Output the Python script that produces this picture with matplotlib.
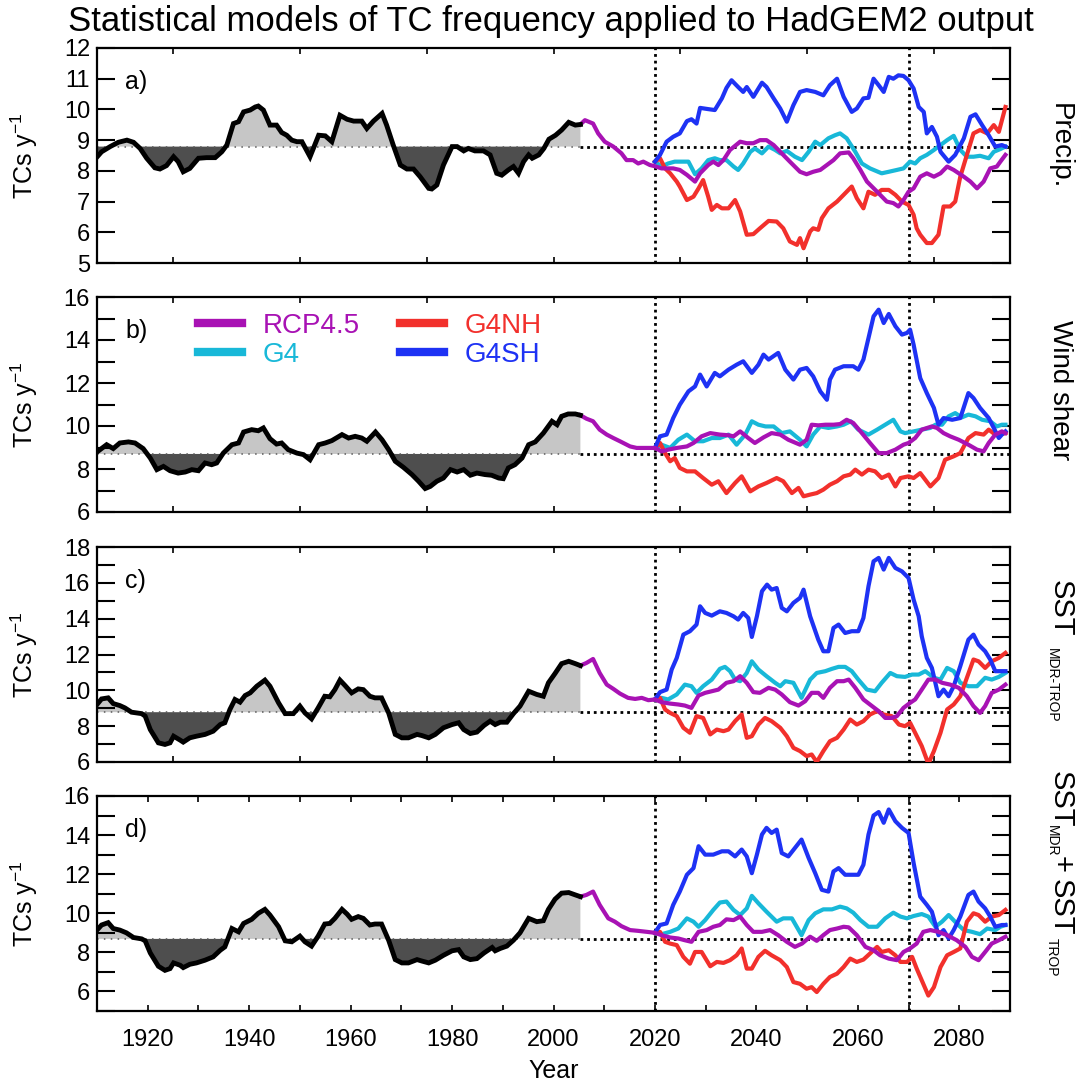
import numpy as np
import matplotlib.pyplot as plt
from matplotlib.ticker import MultipleLocator
from matplotlib.lines import Line2D

plt.rcParams['font.family'] = ['Liberation Sans', 'DejaVu Sans']
plt.rcParams['mathtext.fontset'] = 'custom'
plt.rcParams['mathtext.rm'] = 'Liberation Sans'
plt.rcParams['mathtext.it'] = 'Liberation Sans:italic'
plt.rcParams['mathtext.default'] = 'regular'

# (year, TCs per year)
# ---- a) precipitation model
precip_base = 8.79
precip_hist = [(1910,8.45),(1910.9,8.62),(1912.6,8.79),(1914.2,8.93),(1915.9,9.00),(1917.2,8.93),(1918.5,8.73),(1919.8,8.41),(1921.4,8.10),(1922.4,8.06),(1923.7,8.17),(1925.1,8.46),(1926.0,8.30),(1927.0,7.97),(1928.3,8.08),(1930.0,8.41),(1931.6,8.43),(1933.3,8.43),(1934.6,8.62),(1935.6,8.84),(1936.9,9.54),(1937.9,9.60),(1938.9,9.92),(1940.2,9.98),(1941.2,10.08),(1941.8,10.11),(1942.8,9.98),(1944.1,9.49),(1945.4,9.49),(1946.4,9.25),(1947.4,9.16),(1948.4,9.00),(1949.4,8.95),(1950.4,8.95),(1952.0,8.46),(1953.7,9.16),(1955.0,9.14),(1956.3,8.95),(1957.9,9.81),(1959.3,9.68),(1960.6,9.62),(1962.2,9.62),(1963.2,9.38),(1964.5,9.62),(1966.2,9.87),(1967.1,9.49),(1968.4,8.84),(1969.8,8.19),(1971.1,8.06),(1972.4,8.06),(1973.7,7.81),(1975.4,7.43),(1976.0,7.41),(1977.0,7.54),(1978.3,8.19),(1980.0,8.79),(1981.0,8.79),(1982.3,8.65),(1983.2,8.73),(1984.5,8.65),(1986.2,8.65),(1987.5,8.52),(1988.8,7.92),(1989.8,7.86),(1991.1,8.03),(1992.1,8.14),(1993.1,7.92),(1994.1,8.30),(1995.1,8.52),(1995.8,8.41),(1997.1,8.52),(1998.1,8.73),(1999.1,9.03),(2000.4,9.16),(2001.6,9.33),(2003.0,9.58),(2004.3,9.49),(2005.3,9.51)]
precip_rcp = [(2005.3,9.51),(2006.2,9.65),(2007.8,9.54),(2008.8,9.22),(2010.1,8.95),(2011.8,8.79),(2013.4,8.57),(2014.4,8.35),(2015.7,8.35),(2016.7,8.24),(2017.7,8.30),(2019.0,8.19),(2020.0,8.15),(2021.3,8.08),(2023.6,8.08),(2024.9,8.03),(2026.3,7.87),(2027.9,7.65),(2028.9,7.92),(2030.5,8.19),(2031.5,8.30),(2032.5,8.19),(2033.5,8.35),(2034.8,8.68),(2036.8,8.95),(2038.1,8.90),(2039.4,8.90),(2040.7,9.00),(2042.0,9.00),(2043.4,8.84),(2044.7,8.62),(2046.6,8.30),(2048.6,7.97),(2049.9,7.89),(2051.2,7.97),(2052.6,8.03),(2053.9,8.19),(2055.2,8.35),(2056.5,8.57),(2058.2,8.60),(2059.1,8.41),(2060.5,8.03),(2061.8,7.65),(2063.8,7.32),(2065.7,7.00),(2067.0,6.95),(2068.0,6.84),(2069.0,7.05),(2070.0,7.32),(2071.0,7.43),(2072.3,7.81),(2073.6,7.92),(2075.0,7.81),(2076.3,7.92),(2077.6,8.14),(2078.9,8.03),(2080.9,7.81),(2082.2,7.65),(2083.5,7.43),(2084.8,7.65),(2086.1,8.08),(2087.4,8.14),(2088.1,8.30),(2089.1,8.52)]
precip_g4 = [(2020.0,8.30),(2021.3,8.14),(2022.6,8.24),(2023.9,8.30),(2025.3,8.30),(2026.6,8.30),(2027.9,7.89),(2029.2,8.08),(2030.5,8.35),(2031.8,8.41),(2032.8,8.35),(2034.1,8.35),(2035.5,8.14),(2036.4,8.03),(2037.4,8.24),(2038.8,8.62),(2039.7,8.73),(2041.1,8.57),(2042.4,8.79),(2043.7,8.68),(2044.7,8.57),(2046.0,8.65),(2047.6,8.46),(2049.0,8.35),(2050.3,8.62),(2051.6,8.95),(2052.6,8.84),(2054.2,9.06),(2055.5,9.16),(2056.5,9.22),(2057.8,9.06),(2059.5,8.62),(2060.8,8.24),(2062.4,8.08),(2064.7,7.92),(2066.1,7.97),(2067.7,8.03),(2069.0,8.08),(2070.3,8.30),(2071.3,8.24),(2072.3,8.41),(2073.6,8.52),(2075.0,8.68),(2076.3,8.84),(2077.6,9.00),(2078.9,9.14),(2080.2,8.68),(2081.5,8.46),(2082.8,8.46),(2084.1,8.49),(2085.8,8.41),(2086.8,8.62),(2088.1,8.71),(2089.1,8.79)]
precip_g4nh = [(2020.0,8.30),(2021.0,8.41),(2022.0,8.08),(2023.0,7.92),(2024.3,7.65),(2024.9,7.49),(2026.3,7.05),(2027.6,7.16),(2028.6,7.43),(2029.5,7.70),(2030.5,7.16),(2031.2,6.73),(2032.2,6.89),(2033.2,6.78),(2034.5,6.78),(2035.8,7.05),(2036.8,6.68),(2038.1,5.92),(2039.4,5.94),(2040.7,6.13),(2042.4,6.37),(2044.0,6.35),(2045.3,6.13),(2046.6,5.70),(2048.0,5.59),(2048.6,5.81),(2049.3,5.48),(2050.6,6.03),(2051.2,6.13),(2052.2,6.08),(2052.9,6.46),(2054.2,6.78),(2055.9,7.00),(2057.5,7.27),(2058.8,7.49),(2059.8,7.11),(2061.1,6.78),(2062.1,7.32),(2063.4,7.22),(2064.7,7.38),(2066.1,7.38),(2067.4,7.22),(2068.7,7.00),(2070.0,6.89),(2071.0,6.57),(2071.6,6.13),(2072.3,5.92),(2073.6,5.65),(2074.6,5.65),(2075.9,5.92),(2076.9,6.84),(2078.2,6.84),(2079.2,7.00),(2080.2,7.81),(2081.5,8.52),(2082.8,9.22),(2084.1,9.33),(2085.5,9.22),(2086.8,9.49),(2087.8,9.27),(2089.1,10.08)]
precip_g4sh = [(2020.0,8.30),(2021.0,8.52),(2022.3,8.95),(2023.6,9.11),(2024.9,9.22),(2026.3,9.62),(2027.2,9.68),(2028.2,9.54),(2028.9,10.05),(2030.5,10.01),(2031.8,9.98),(2033.2,10.36),(2034.1,10.70),(2035.1,10.95),(2036.4,10.73),(2037.4,10.57),(2038.1,10.73),(2039.4,10.41),(2041.1,10.87),(2042.0,10.73),(2043.4,10.36),(2044.7,10.03),(2046.0,9.60),(2047.3,10.14),(2048.6,10.57),(2049.9,10.63),(2051.6,10.57),(2053.2,10.46),(2054.5,10.79),(2055.9,11.00),(2057.2,10.41),(2058.8,9.92),(2059.8,10.03),(2061.1,10.36),(2062.1,10.38),(2063.1,11.00),(2064.1,10.79),(2065.1,10.57),(2066.1,11.06),(2067.0,11.00),(2068.0,11.11),(2069.0,11.09),(2070.0,10.95),(2071.0,10.68),(2072.0,10.08),(2073.0,9.92),(2073.6,9.22),(2074.6,9.43),(2075.6,9.11),(2076.3,8.62),(2077.9,8.30),(2079.2,8.52),(2080.9,9.06),(2082.2,9.76),(2083.2,9.84),(2084.5,9.49),(2085.8,9.16),(2087.1,8.79),(2088.4,8.84),(2089.1,8.79)]

# ---- b) wind shear model
wind_base = 8.70
wind_hist = [(1910,8.79),(1910.6,8.90),(1911.9,9.13),(1913.2,8.95),(1914.5,9.21),(1916.2,9.26),(1917.5,9.21),(1919.1,8.95),(1920.5,8.51),(1921.8,7.97),(1923.1,8.12),(1924.4,7.92),(1926.0,7.81),(1927.4,7.86),(1928.7,7.97),(1930.0,7.92),(1931.3,8.28),(1932.6,8.20),(1933.6,8.28),(1934.9,8.74),(1936.6,9.13),(1937.9,9.21),(1938.9,9.72),(1940.5,9.83),(1941.8,9.78),(1942.8,9.91),(1944.1,9.41),(1945.4,9.16),(1946.4,9.21),(1947.7,8.90),(1949.4,8.74),(1950.7,8.67),(1952.0,8.43),(1953.7,9.13),(1955.0,9.21),(1956.3,9.32),(1958.3,9.60),(1959.6,9.44),(1960.9,9.52),(1962.2,9.44),(1963.2,9.29),(1964.9,9.72),(1966.2,9.36),(1967.5,8.90),(1968.8,8.36),(1970.4,8.08),(1972.1,7.74),(1973.4,7.43),(1974.7,7.09),(1975.7,7.19),(1977.0,7.43),(1978.3,7.58),(1979.7,7.97),(1981.0,7.86),(1982.3,7.97),(1983.6,7.71),(1984.9,7.81),(1986.5,7.74),(1987.8,7.71),(1989.2,7.58),(1990.1,7.55),(1991.1,8.05),(1992.4,8.20),(1993.8,8.51),(1995.1,9.13),(1996.4,9.26),(1998.0,9.67),(1999.7,10.22),(2000.7,10.06),(2001.6,10.45),(2002.9,10.56),(2004.3,10.56),(2005.3,10.50)]
wind_rcp = [(2005.3,10.50),(2006.5,10.34),(2007.8,10.22),(2009.1,9.83),(2010.5,9.60),(2011.8,9.44),(2013.1,9.29),(2015.1,9.05),(2016.4,8.98),(2018.0,8.98),(2020.0,8.98),(2021.3,8.82),(2022.6,8.90),(2024.3,8.98),(2026.3,9.05),(2027.6,9.21),(2029.2,9.52),(2030.9,9.67),(2032.8,9.60),(2034.5,9.57),(2035.5,9.52),(2036.8,9.75),(2038.4,9.44),(2039.7,9.21),(2041.4,9.47),(2043.0,9.67),(2044.7,9.60),(2046.3,9.36),(2048.6,9.13),(2049.9,9.36),(2050.9,10.06),(2052.2,10.03),(2053.6,10.06),(2055.2,10.06),(2056.5,10.09),(2057.8,10.29),(2059.1,10.14),(2060.8,9.67),(2062.4,9.21),(2064.1,8.74),(2065.7,8.74),(2067.4,8.90),(2069.0,9.13),(2070.0,9.21),(2071.3,9.44),(2072.6,9.83),(2074.6,9.98),(2075.6,9.91),(2076.9,9.67),(2078.2,9.52),(2079.9,9.36),(2081.8,9.13),(2083.5,8.90),(2084.8,8.82),(2085.8,9.21),(2087.1,9.60),(2088.4,9.75),(2089.1,9.67)]
wind_g4 = [(2020.0,8.98),(2021.3,9.13),(2023.0,8.98),(2024.6,9.36),(2026.3,9.60),(2027.9,9.29),(2029.5,9.29),(2031.2,9.44),(2032.8,9.44),(2034.5,9.60),(2036.1,9.13),(2037.8,9.60),(2039.1,10.22),(2040.4,10.06),(2041.8,9.98),(2043.4,9.98),(2045.0,9.67),(2046.6,9.75),(2048.6,9.36),(2049.9,9.05),(2051.2,9.60),(2052.6,9.98),(2054.2,9.91),(2055.9,9.98),(2057.2,10.06),(2058.6,10.22),(2060.1,9.83),(2062.1,9.60),(2063.8,9.83),(2065.4,10.06),(2067.0,10.29),(2068.4,9.75),(2069.3,9.67),(2071.0,9.75),(2072.6,9.83),(2074.3,9.91),(2075.3,10.06),(2076.6,10.06),(2077.9,10.45),(2079.2,10.60),(2080.5,10.40),(2081.8,10.53),(2083.2,10.45),(2084.5,10.29),(2086.1,10.22),(2087.4,9.98),(2088.4,10.06),(2089.1,10.06)]
wind_g4nh = [(2020.0,8.98),(2021.0,9.21),(2022.0,8.74),(2023.0,8.36),(2023.9,8.51),(2024.9,8.05),(2026.3,7.89),(2027.9,7.89),(2029.5,7.58),(2031.2,7.27),(2032.5,7.43),(2034.1,6.88),(2035.8,7.35),(2037.1,7.66),(2038.8,6.96),(2040.4,7.19),(2042.0,7.35),(2044.0,7.58),(2045.3,7.43),(2047.0,6.88),(2048.3,7.12),(2049.3,6.73),(2050.6,6.81),(2051.9,6.88),(2053.2,7.04),(2054.5,7.27),(2055.9,7.43),(2057.2,7.66),(2058.5,7.74),(2059.5,7.97),(2060.8,7.74),(2062.1,7.97),(2063.4,7.89),(2064.7,7.58),(2066.1,7.74),(2067.4,7.19),(2068.4,7.58),(2070.0,7.66),(2071.0,7.58),(2072.3,7.81),(2074.3,7.19),(2075.9,7.58),(2077.2,8.43),(2078.9,8.59),(2080.2,8.74),(2081.8,9.44),(2083.2,9.67),(2084.8,9.60),(2085.8,9.83),(2087.1,9.60),(2088.1,9.60),(2089.1,9.67)]
wind_g4sh = [(2020.0,8.98),(2021.0,9.52),(2022.3,9.60),(2023.6,10.37),(2024.9,10.99),(2026.6,11.61),(2027.9,11.84),(2028.9,12.39),(2030.2,11.84),(2031.8,12.47),(2032.8,12.31),(2034.5,12.62),(2036.1,12.85),(2037.4,13.01),(2039.1,12.47),(2040.4,12.85),(2041.4,13.32),(2042.4,13.09),(2044.3,13.40),(2045.7,12.62),(2047.3,12.16),(2048.6,12.62),(2049.9,12.70),(2051.2,12.31),(2052.6,11.61),(2053.9,11.22),(2054.5,12.16),(2055.5,12.62),(2057.2,12.78),(2059.1,12.78),(2060.1,12.62),(2061.1,13.09),(2062.1,14.09),(2063.1,15.10),(2064.1,15.41),(2065.1,14.79),(2066.1,15.21),(2067.4,14.64),(2068.7,14.25),(2069.7,14.33),(2070.3,14.48),(2071.0,13.78),(2072.3,12.23),(2073.6,11.53),(2075.0,10.84),(2075.9,10.06),(2076.9,10.37),(2078.6,10.29),(2080.2,10.37),(2081.8,11.53),(2082.8,11.30),(2084.1,10.84),(2085.8,10.37),(2086.8,9.91),(2087.8,9.44),(2088.4,9.60),(2089.1,9.75)]

# ---- c) relative SST (MDR minus tropics)
sstrel_base = 8.78
sstrel_hist = [(1910,9.21),(1910.9,9.52),(1912.2,9.58),(1913.2,9.26),(1914.5,9.15),(1915.5,9.02),(1916.8,8.78),(1918.8,8.70),(1919.5,8.56),(1920.5,7.81),(1922.1,7.07),(1923.4,6.98),(1924.4,7.07),(1925.1,7.44),(1926.4,7.22),(1927.0,7.11),(1928.3,7.35),(1929.6,7.44),(1931.3,7.54),(1932.9,7.72),(1934.3,8.09),(1935.2,8.19),(1936.2,8.93),(1937.2,9.49),(1938.2,9.34),(1939.2,9.71),(1940.2,9.86),(1941.5,10.23),(1943.1,10.57),(1944.1,10.23),(1945.8,9.30),(1947.1,8.70),(1948.7,8.70),(1950.0,9.12),(1951.0,8.74),(1952.3,8.41),(1953.6,9.02),(1954.9,9.67),(1955.9,9.64),(1956.9,10.04),(1957.9,10.57),(1958.9,10.27),(1960.2,9.86),(1961.5,10.08),(1962.5,10.04),(1963.8,9.67),(1964.8,9.58),(1966.1,9.58),(1967.5,8.74),(1968.8,7.54),(1970.1,7.35),(1971.4,7.35),(1973.1,7.54),(1974.0,7.48),(1975.4,7.35),(1976.7,7.54),(1978.3,7.91),(1980.0,8.09),(1981.3,8.19),(1982.3,7.81),(1983.6,7.59),(1984.9,7.67),(1986.3,8.04),(1987.5,8.28),(1988.5,8.09),(1989.5,8.22),(1990.8,8.22),(1992.1,8.70),(1993.4,9.12),(1995.1,9.95),(1996.7,9.77),(1998.0,9.67),(1999.0,10.42),(2000.3,10.94),(2001.6,11.49),(2003.0,11.62),(2004.3,11.49),(2005.3,11.38)]
sstrel_rcp = [(2005.3,11.38),(2006.5,11.53),(2007.8,11.75),(2009.1,10.97),(2010.5,10.32),(2011.8,10.08),(2013.1,9.82),(2014.7,9.58),(2016.1,9.52),(2017.4,9.58),(2018.7,9.45),(2020.0,9.49),(2021.3,9.34),(2023.0,9.26),(2024.6,9.21),(2025.9,9.15),(2027.2,9.02),(2028.6,9.71),(2029.9,9.86),(2031.2,9.95),(2032.5,10.04),(2034.1,10.42),(2035.5,10.51),(2036.8,10.79),(2038.1,10.42),(2039.4,9.90),(2040.7,9.86),(2042.4,10.14),(2043.7,10.04),(2045.0,9.77),(2046.6,9.34),(2048.3,9.15),(2049.6,9.39),(2050.9,9.86),(2052.2,9.86),(2053.2,9.58),(2054.5,10.14),(2055.9,10.51),(2057.2,10.51),(2058.2,10.60),(2059.5,10.14),(2061.1,9.49),(2062.8,9.12),(2064.1,8.84),(2065.4,8.46),(2066.7,8.46),(2067.7,8.56),(2069.0,9.02),(2070.3,9.30),(2071.3,9.49),(2072.6,10.04),(2073.9,10.60),(2075.3,10.60),(2076.6,10.42),(2078.2,10.32),(2079.9,10.14),(2081.5,9.67),(2082.8,9.12),(2084.1,8.74),(2085.1,9.12),(2086.4,9.86),(2087.8,10.04),(2089.1,10.32)]
sstrel_g4 = [(2020.0,9.49),(2021.3,9.58),(2022.6,9.49),(2024.3,9.77),(2025.9,10.32),(2027.2,10.23),(2028.2,9.86),(2029.5,10.23),(2031.2,10.60),(2032.8,11.20),(2033.8,11.31),(2034.8,11.07),(2035.8,10.60),(2036.8,10.51),(2038.1,10.97),(2039.1,11.62),(2040.4,11.16),(2042.0,10.79),(2043.7,10.42),(2044.7,10.23),(2045.7,10.51),(2047.3,10.42),(2048.9,9.58),(2050.6,10.60),(2051.9,10.97),(2053.6,11.07),(2054.9,11.20),(2056.2,11.31),(2057.5,11.31),(2058.8,11.07),(2060.1,10.60),(2061.8,10.04),(2063.4,9.95),(2064.7,10.42),(2066.4,10.97),(2067.7,10.79),(2069.3,10.75),(2070.7,10.88),(2072.0,10.88),(2073.3,11.07),(2075.0,10.70),(2076.3,10.60),(2077.6,11.25),(2078.9,11.07),(2080.2,10.42),(2081.8,10.23),(2083.5,10.23),(2085.1,10.70),(2086.4,10.60),(2087.8,10.75),(2089.1,10.97)]
sstrel_g4nh = [(2020.0,9.49),(2021.0,9.58),(2022.0,8.93),(2023.0,8.74),(2024.3,8.56),(2025.6,7.91),(2026.9,7.63),(2028.2,8.56),(2029.5,8.46),(2030.9,7.54),(2032.2,7.81),(2033.5,7.72),(2034.5,7.81),(2035.8,8.28),(2037.1,8.65),(2038.1,7.35),(2039.1,7.44),(2040.4,8.09),(2041.7,8.46),(2043.0,8.28),(2044.7,7.91),(2046.0,7.44),(2047.3,6.79),(2048.6,6.61),(2049.9,6.33),(2050.9,6.42),(2051.9,6.00),(2053.2,6.61),(2054.5,7.16),(2055.9,7.35),(2057.2,7.81),(2058.5,8.37),(2059.8,8.09),(2061.1,8.28),(2062.4,8.65),(2063.8,8.84),(2065.1,8.65),(2066.7,8.56),(2068.1,8.09),(2069.3,8.00),(2070.3,8.19),(2071.3,7.63),(2072.6,6.89),(2073.9,5.90),(2075.0,6.61),(2076.3,7.63),(2077.6,8.93),(2078.9,9.21),(2080.2,9.67),(2081.5,10.70),(2082.8,11.72),(2083.8,11.62),(2085.1,11.25),(2086.4,11.62),(2087.8,11.81),(2089.1,12.09)]
sstrel_g4sh = [(2020.0,9.49),(2021.0,9.90),(2022.3,10.04),(2023.3,11.16),(2024.3,11.81),(2025.6,13.11),(2026.9,13.30),(2028.2,13.67),(2028.9,14.69),(2029.9,14.32),(2031.2,14.17),(2032.8,14.41),(2034.1,14.32),(2035.5,14.13),(2036.4,13.95),(2037.4,14.32),(2038.4,14.04),(2039.1,12.98),(2040.1,14.13),(2041.1,15.53),(2042.1,15.90),(2043.0,15.62),(2044.0,15.71),(2045.0,14.60),(2046.0,14.41),(2047.3,14.88),(2048.6,15.16),(2049.3,15.62),(2050.6,14.13),(2052.2,12.83),(2053.2,12.18),(2054.2,12.18),(2055.2,13.48),(2056.2,13.67),(2057.5,13.20),(2058.8,13.30),(2060.1,13.30),(2061.1,14.04),(2062.1,15.81),(2063.1,17.20),(2064.1,17.39),(2065.1,16.74),(2066.1,17.39),(2067.4,16.83),(2068.7,16.64),(2070.0,16.27),(2071.0,15.06),(2072.0,14.13),(2072.6,13.02),(2073.6,11.81),(2074.6,11.25),(2075.9,9.67),(2076.9,10.04),(2077.9,9.67),(2078.9,10.23),(2080.2,11.35),(2081.8,12.83),(2082.8,13.11),(2083.8,12.55),(2085.1,12.18),(2086.1,11.72),(2087.1,11.07),(2088.1,11.07),(2089.1,11.07)]

# ---- d) MDR SST + tropical SST
sstsum_base = 8.69
sstsum_hist = [(1910,9.14),(1910.9,9.40),(1912.2,9.52),(1913.2,9.22),(1914.5,9.14),(1915.8,9.00),(1917.2,8.76),(1918.8,8.69),(1919.5,8.59),(1920.5,7.97),(1922.1,7.29),(1923.4,7.08),(1924.4,7.17),(1925.1,7.46),(1926.4,7.34),(1927.0,7.22),(1928.3,7.39),(1929.6,7.46),(1931.3,7.60),(1932.9,7.77),(1934.3,8.11),(1935.2,8.28),(1936.6,9.22),(1937.9,9.05),(1938.9,9.48),(1940.5,9.69),(1941.8,10.00),(1943.1,10.20),(1944.1,9.91),(1945.8,9.31),(1947.1,8.59),(1948.4,8.54),(1950.0,8.83),(1951.0,8.54),(1952.3,8.32),(1953.6,8.83),(1954.9,9.45),(1955.9,9.48),(1956.9,9.74),(1958.3,10.20),(1959.3,9.96),(1960.2,9.69),(1961.5,9.83),(1962.5,9.74),(1963.8,9.40),(1964.8,9.45),(1966.1,9.45),(1967.5,8.62),(1968.8,7.63),(1970.1,7.46),(1971.4,7.46),(1973.1,7.63),(1974.0,7.56),(1975.4,7.46),(1976.7,7.60),(1978.3,7.85),(1980.0,8.08),(1981.3,8.14),(1982.3,7.77),(1983.6,7.63),(1984.9,7.68),(1986.3,7.97),(1987.9,8.25),(1988.5,8.08),(1989.5,8.20),(1990.8,8.32),(1992.1,8.62),(1993.4,9.00),(1995.1,9.74),(1996.7,9.57),(1998.0,9.62),(1999.0,10.20),(2000.3,10.72),(2001.6,11.03),(2003.0,11.06),(2004.3,10.94),(2005.3,10.85)]
sstsum_rcp = [(2005.3,10.85),(2006.5,10.94),(2007.8,11.11),(2009.1,10.43),(2010.8,9.74),(2012.1,9.57),(2013.4,9.34),(2015.1,9.14),(2016.7,9.10),(2018.4,9.05),(2020.0,9.00),(2021.3,8.88),(2023.0,8.76),(2024.6,8.71),(2025.9,8.62),(2027.2,8.54),(2028.6,9.05),(2030.2,9.14),(2031.5,9.31),(2032.8,9.40),(2034.1,9.69),(2035.5,9.65),(2036.8,9.83),(2038.1,9.40),(2039.4,9.05),(2041.1,9.05),(2042.7,9.14),(2044.3,8.88),(2046.0,8.54),(2047.6,8.28),(2049.0,8.45),(2050.6,8.80),(2051.9,8.59),(2053.2,8.88),(2054.5,9.14),(2055.9,9.22),(2057.2,9.31),(2058.2,9.28),(2059.8,8.88),(2061.5,8.28),(2063.1,8.11),(2064.4,7.85),(2066.1,7.68),(2067.7,7.60),(2069.0,8.02),(2070.3,8.20),(2071.6,8.45),(2072.9,9.05),(2074.3,9.14),(2075.9,9.05),(2077.6,8.88),(2079.5,8.62),(2081.2,8.28),(2082.5,7.77),(2083.8,7.60),(2085.1,8.02),(2086.4,8.45),(2087.8,8.62),(2089.1,8.80)]
sstsum_g4 = [(2020.0,9.00),(2021.3,8.93),(2023.0,9.05),(2024.6,9.22),(2026.3,9.74),(2027.6,9.57),(2028.6,9.31),(2029.9,9.65),(2031.5,10.17),(2032.8,10.55),(2034.1,10.60),(2035.5,10.17),(2036.8,9.91),(2038.1,10.25),(2039.1,10.89),(2040.4,10.51),(2042.0,10.08),(2044.0,9.57),(2045.3,9.74),(2047.0,9.74),(2048.9,8.88),(2050.3,9.65),(2051.6,10.00),(2053.2,10.20),(2054.9,10.20),(2056.5,10.34),(2057.8,10.25),(2059.1,10.03),(2060.5,9.65),(2062.1,9.31),(2063.8,9.31),(2065.4,9.74),(2067.0,10.03),(2068.4,9.83),(2069.7,9.74),(2071.0,9.86),(2072.6,9.96),(2073.9,9.83),(2075.3,9.31),(2076.6,9.57),(2077.9,9.91),(2079.5,9.48),(2080.9,9.14),(2082.5,9.05),(2084.1,8.93),(2085.5,9.22),(2087.1,9.14),(2088.1,9.31),(2089.1,9.40)]
sstsum_g4nh = [(2020.0,9.00),(2021.0,9.05),(2022.0,8.54),(2023.0,8.45),(2024.3,8.37),(2025.6,7.77),(2026.9,7.42),(2027.9,8.02),(2029.2,8.02),(2030.9,7.29),(2032.2,7.51),(2033.5,7.46),(2034.8,7.60),(2036.1,7.85),(2037.1,8.20),(2038.1,7.17),(2039.1,7.17),(2040.4,7.77),(2041.7,8.08),(2043.0,7.85),(2044.7,7.60),(2046.0,7.25),(2047.3,6.48),(2048.6,6.39),(2049.9,6.14),(2050.9,6.22),(2051.9,5.97),(2053.2,6.39),(2054.5,6.74),(2055.9,6.91),(2057.2,7.25),(2058.5,7.68),(2059.8,7.51),(2061.1,7.63),(2062.4,7.94),(2063.8,8.28),(2064.7,8.02),(2066.1,8.11),(2067.4,7.85),(2068.4,7.51),(2069.7,7.51),(2070.7,7.77),(2071.6,7.17),(2072.9,6.39),(2073.9,5.79),(2075.0,6.22),(2076.3,7.25),(2077.6,7.85),(2078.9,8.02),(2080.2,8.20),(2081.5,9.57),(2082.8,10.00),(2083.8,9.91),(2085.1,9.57),(2086.4,9.83),(2087.8,9.91),(2089.1,10.17)]
sstsum_g4sh = [(2020.0,9.00),(2021.0,9.40),(2022.3,9.48),(2023.6,10.43),(2024.9,11.11),(2026.3,11.97),(2027.6,12.31),(2028.6,13.43),(2029.9,13.00),(2031.5,13.00),(2033.2,13.17),(2034.5,13.17),(2035.8,12.91),(2037.1,13.26),(2038.1,12.91),(2039.1,12.05),(2040.1,13.00),(2041.1,14.03),(2042.0,14.37),(2043.0,14.11),(2044.0,14.28),(2045.0,13.08),(2046.3,12.91),(2047.6,13.34),(2048.9,13.77),(2050.3,12.83),(2051.6,12.05),(2052.9,11.20),(2054.2,11.11),(2055.2,12.14),(2056.2,12.31),(2057.5,11.97),(2059.1,11.97),(2060.1,11.97),(2061.1,12.48),(2062.1,14.03),(2063.1,15.00),(2064.1,15.18),(2065.1,14.63),(2066.1,15.31),(2067.4,14.71),(2068.7,14.37),(2070.0,14.11),(2071.0,12.57),(2072.3,10.85),(2073.6,10.43),(2074.6,10.08),(2075.9,8.88),(2076.9,9.14),(2077.9,8.71),(2078.9,9.14),(2080.2,9.83),(2081.8,10.94),(2082.8,11.11),(2083.8,10.60),(2085.1,10.25),(2086.1,9.83),(2087.1,9.31),(2088.4,9.40),(2089.1,9.40)]

scenario_names = ['RCP4.5', 'G4', 'G4NH', 'G4SH']
scenario_colors = ['#a812b4', '#18b8d8', '#f2302c', '#1e32f4']

panels = [
    dict(tag='a)', base=precip_base, hist=precip_hist,
         runs=[precip_rcp, precip_g4, precip_g4nh, precip_g4sh], ylim=(5, 12), major=1),
    dict(tag='b)', base=wind_base, hist=wind_hist,
         runs=[wind_rcp, wind_g4, wind_g4nh, wind_g4sh], ylim=(6, 16), major=2),
    dict(tag='c)', base=sstrel_base, hist=sstrel_hist,
         runs=[sstrel_rcp, sstrel_g4, sstrel_g4nh, sstrel_g4sh], ylim=(6, 18), major=2),
    dict(tag='d)', base=sstsum_base, hist=sstsum_hist,
         runs=[sstsum_rcp, sstsum_g4, sstsum_g4nh, sstsum_g4sh], ylim=(5, 16), major=2),
]
# draw order of the scenario lines (rcp last so it sits on top)
draw_order = [1, 2, 3, 0]

W, H = 1079, 1082
fig = plt.figure(figsize=(W / 100, H / 100), dpi=100)
boxes = [(48, 263), (297, 512), (547, 762), (796, 1011)]  # top/bottom in px

axes = []
for p, (top, bot) in zip(panels, boxes):
    ax = fig.add_axes([97 / W, 1 - bot / H, 913 / W, (bot - top) / H])
    axes.append(ax)
    hx, hy = np.array(p['hist']).T
    base = p['base']
    ax.fill_between(hx, hy, base, where=hy >= base, interpolate=True,
                    color='#c6c6c6', lw=0, zorder=1)
    ax.fill_between(hx, hy, base, where=hy <= base, interpolate=True,
                    color='#4e4e4e', lw=0, zorder=1)
    ax.hlines(base, 1910, hx[-1], color='0.35', lw=1.1, ls=(0, (1, 3.5)), zorder=1.5)
    ax.hlines(base, hx[-1], 2090, color='k', lw=2.0, ls=(0, (1, 1.4)), zorder=2)
    for yr in (2020, 2070):
        ax.axvline(yr, color='k', lw=2.0, ls=(0, (1, 1.4)), zorder=2)
    ax.plot(hx, hy, color='k', lw=3.5, zorder=4, solid_joinstyle='miter')
    for k in draw_order:
        rx, ry = np.array(p['runs'][k]).T
        ax.plot(rx, ry, color=scenario_colors[k], lw=3.0, zorder=3,
                label=scenario_names[k])

    ax.set_xlim(1910, 2090)
    ax.set_ylim(*p['ylim'])
    ax.yaxis.set_major_locator(MultipleLocator(p['major']))
    ax.yaxis.set_minor_locator(MultipleLocator(1))
    ax.tick_params(axis='y', which='both', direction='in', length=13, width=1.5,
                   left=True, right=True, labelsize=17, pad=5)
    ax.tick_params(axis='x', which='both', direction='in', length=4, width=1.2,
                   top=True, bottom=True, labelsize=17, pad=13)
    for s in ax.spines.values():
        s.set_linewidth(1.6)
    ax.set_ylabel('TCs y$^{-1}$', fontsize=18)
    ax.yaxis.set_label_coords(-0.062, 0.5)
    ax.text(0.031, 0.84, p['tag'], transform=ax.transAxes, fontsize=18,
            ha='left', va='center')

for ax in axes[:3]:
    ax.set_xticks(np.arange(1925, 2076, 25))
    ax.tick_params(axis='x', labelbottom=False)
axes[3].xaxis.set_major_locator(MultipleLocator(20))
axes[3].xaxis.set_minor_locator(MultipleLocator(10))
axes[3].set_xlabel('Year', fontsize=18, labelpad=6)

# legend in panel b
handles = [Line2D([], [], color=c, lw=6) for c in scenario_colors]
axes[1].legend(handles, scenario_names, ncol=2, loc='upper left',
               bbox_to_anchor=((198 - 97) / 913, 0.925), frameon=False,
               borderpad=0, borderaxespad=0, handlelength=1.6, handletextpad=0.72,
               columnspacing=1.45, labelspacing=0.1, fontsize=20,
               labelcolor='linecolor')

fig.text(551 / W, 1 - 21 / H,
         'Statistical models of TC frequency applied to HadGEM2 output',
         ha='center', va='center', fontsize=25)

# right-hand labels, read top to bottom
def side(px, py, s, size):
    fig.text(px / W, 1 - py / H, s, rotation=-90, ha='center', va='center',
             fontsize=size)

side(1060, 146, 'Precip.', 20)
side(1060, 390, 'Wind shear', 20)
side(1061, 608, 'SST', 21)
side(1052, 685, 'MDR-TROP', 10)
side(1061, 799, 'SST', 21)
side(1052, 841, 'MDR', 10)
side(1061, 864, '+', 21)
side(1061, 907, 'SST', 21)
side(1052, 957, 'TROP', 10)

fig.savefig('out.png', dpi=100)
